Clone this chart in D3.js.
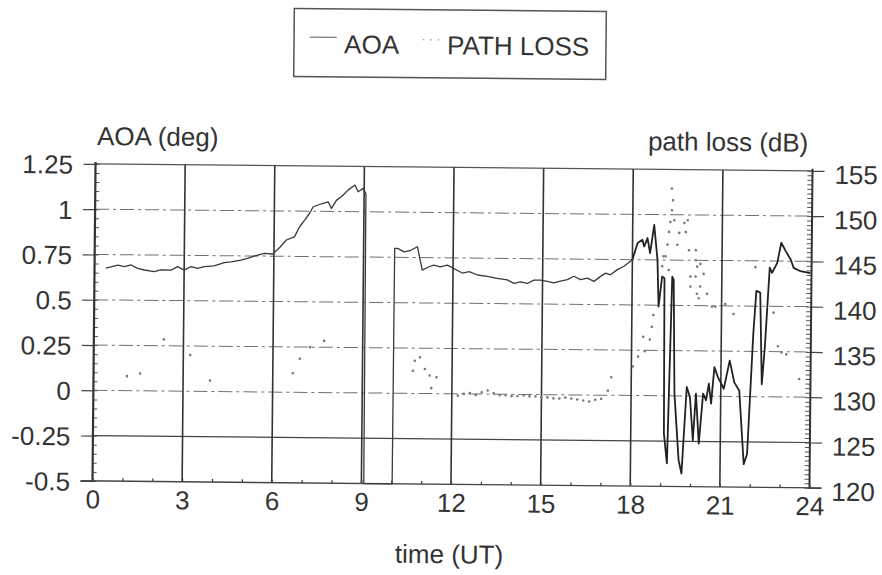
<!DOCTYPE html>
<html><head><meta charset="utf-8">
<script src="https://cdn.jsdelivr.net/npm/d3@7"></script>
<style>
html,body{margin:0;padding:0;background:#fff;}
svg{display:block;}
text{font-family:"Liberation Sans",Arial,Helvetica,sans-serif;fill:#333;}
</style></head>
<body>
<svg id="chart" width="882" height="575"></svg>
<script>
// ---- data ----
const xTicks = [0,3,6,9,12,15,18,21,24];
const aoaTicks = [-0.5,-0.25,0,0.25,0.5,0.75,1,1.25];
const aoaTickLabels = ["-0.5","-0.25","0","0.25","0.5","0.75","1","1.25"];
const plTicks = [120,125,130,135,140,145,150,155];

const aoaTime = [0.38,0.78,1.0,1.22,1.44,1.67,2.0,2.22,2.56,2.78,3.0,3.23,3.45,3.67,4.0,4.34,4.57,4.9,5.12,5.34,5.68,5.96,6.2,6.41,6.68,6.85,7.02,7.18,7.30,7.46,7.63,7.80,7.91,8.08,8.24,8.35,8.47,8.69,8.80,8.97,9.06,9.08,10.03,10.04,10.14,10.36,10.58,10.8,10.97,11.19,11.35,11.57,11.81,12.31,12.54,12.82,13.15,13.48,13.82,14.04,14.26,14.49,14.71,14.93,15.16,15.38,15.6,15.83,16.05,16.27,16.5,16.72,16.94,17.11,17.27,17.5,17.72,18.0,18.17,18.33,18.39,18.5,18.59,18.72,18.84,18.89,19.0,19.08,19.11,19.22,19.34,19.39,19.45,19.61,19.71,19.86,19.97,20.08,20.17,20.28,20.41,20.51,20.6,20.68,20.78,20.9,21.1,21.29,21.45,21.62,21.79,21.9,22.07,22.16,22.29,22.37,22.46,22.6,22.68,22.85,22.98,23.13,23.3,23.4,23.63,23.96];
const aoaValue = [0.675,0.693,0.685,0.694,0.676,0.667,0.658,0.668,0.668,0.687,0.668,0.688,0.679,0.689,0.693,0.712,0.717,0.727,0.737,0.75,0.765,0.762,0.80,0.84,0.858,0.914,0.951,0.989,1.025,1.035,1.044,1.053,1.017,1.063,1.082,1.10,1.12,1.147,1.11,1.129,1.10,-0.5,-0.5,0.80,0.80,0.781,0.79,0.81,0.681,0.70,0.709,0.70,0.71,0.667,0.675,0.657,0.65,0.64,0.632,0.613,0.622,0.613,0.632,0.632,0.626,0.617,0.627,0.636,0.655,0.637,0.646,0.628,0.656,0.674,0.665,0.694,0.713,0.75,0.842,0.86,0.823,0.87,0.787,0.943,0.75,0.492,0.658,0.649,-0.207,-0.373,0.658,0.64,0.014,-0.354,-0.428,0.05,-0.005,-0.244,0.014,-0.262,0.014,-0.023,0.069,-0.041,0.161,0.106,0.042,0.198,0.078,0.032,-0.373,-0.317,0.345,0.584,0.575,0.069,0.271,0.713,0.685,0.74,0.851,0.805,0.759,0.713,0.695,0.685];

const plTime = [1.12,1.56,2.34,3.23,3.9,6.67,6.9,7.24,7.71,10.69,10.75,10.92,11.09,11.25,11.31,11.48,
 12.2,12.4,12.6,12.8,13.0,13.2,13.4,13.6,13.8,14.0,14.2,14.4,14.6,14.8,15.0,15.2,15.4,15.6,15.8,16.0,16.2,16.4,16.6,16.8,17.0,
 17.22,17.33,18.05,18.22,18.39,18.44,18.61,18.67,18.72,19.0,19.04,19.11,19.17,19.22,19.26,19.31,19.30,19.34,19.22,19.39,19.56,19.5,19.73,19.84,19.78,19.89,20.12,20.12,20.17,20.28,19.95,20.12,19.95,20.28,20.17,20.23,20.39,20.51,20.68,20.79,21.12,21.4,22.12,22.74,22.9,23.02,23.18,23.62];
const plValue = [131.6,131.9,135.7,134.0,131.2,132.1,133.7,135.0,135.7,132.5,133.6,134.0,132.7,132.0,130.6,131.8,
 129.8,130.0,130.1,129.9,130.2,130.4,130.1,129.9,129.9,129.8,129.8,129.9,129.8,129.8,129.7,129.7,129.6,129.6,129.7,129.6,129.5,129.4,129.3,129.5,129.6,
 130.5,132.0,133.2,134.3,136.5,134.9,136.2,137.6,138.9,144.3,145.4,145.4,146.7,148.1,149.2,150.5,152.9,151.6,143.9,149.4,148.0,146.7,149.1,149.4,148.1,146.1,146.1,145.0,144.3,144.6,143.2,143.2,142.1,142.1,141.3,140.8,143.5,141.3,139.9,139.9,140.2,139.1,144.3,139.3,135.6,134.9,134.7,132.0];

// ---- layout ----
const svg = d3.select("#chart");
const L = 94, R = 811, T = 167.35, B = 484.35;
const g = svg.append("g").attr("transform","rotate(0.55,452.5,325.85)");

const x = d3.scaleLinear().domain([0,24]).range([L,R]);
const yA = d3.scaleLinear().domain([-0.5,1.25]).range([B,T]);
const yP = d3.scaleLinear().domain([120,155]).range([B,T]);

// legend
const lg = g.append("g");
lg.append("rect").attr("x",291.3).attr("y",10).attr("width",312).attr("height",68)
  .attr("fill","none").attr("stroke","#555").attr("stroke-width",1.5);
lg.append("line").attr("x1",307).attr("x2",334).attr("y1",38.5).attr("y2",38.5).attr("stroke","#777").attr("stroke-width",1.2);
lg.append("text").attr("x",341.5).attr("y",54.3).attr("font-size",26).text("AOA");
lg.append("line").attr("x1",420).attr("x2",437).attr("y1",40).attr("y2",40).attr("stroke","#999")
  .attr("stroke-width",1.3).attr("stroke-dasharray","1.5,6");
lg.append("text").attr("x",444.5).attr("y",54.3).attr("font-size",26).text("PATH LOSS");

// horizontal grid
aoaTicks.filter(v => v > -0.5 && v < 1.25).forEach(v => {
  g.append("line").attr("x1",L).attr("x2",R).attr("y1",yA(v)).attr("y2",yA(v))
   .attr("stroke", v === -0.25 ? "#444" : "#707070")
   .attr("stroke-width", v === -0.25 ? 1.2 : 1)
   .attr("stroke-dasharray", v === -0.25 ? null : "14,4,3,4");
});
// top frame
g.append("line").attr("x1",L).attr("x2",R).attr("y1",T).attr("y2",T).attr("stroke","#555").attr("stroke-width",1.2);
// vertical grid
xTicks.filter(t => t > 0 && t < 24).forEach(t => {
  g.append("line").attr("x1",x(t)).attr("x2",x(t)).attr("y1",T).attr("y2",B)
   .attr("stroke","#333").attr("stroke-width",1.6);
});

// axes
const leftAxis = d3.axisLeft(yA).tickValues(aoaTicks).tickFormat((d,i)=>aoaTickLabels[i]).tickSize(12).tickPadding(10);
const la = g.append("g").attr("transform",`translate(${L},0)`).call(leftAxis);
la.select(".domain").remove();
la.selectAll("line").attr("stroke","#444").attr("stroke-width",1.2);
la.selectAll("text").attr("font-size",26).attr("fill","#333").attr("dy","0.36em").attr("x",-22.5);
const leftMinor = d3.axisRight(yA).tickValues(d3.range(-0.5,1.2501,0.05)).tickSize(4).tickFormat("");
const lm = g.append("g").attr("transform",`translate(${L},0)`).call(leftMinor);
lm.select(".domain").remove();
lm.selectAll("line").attr("stroke","#555").attr("stroke-width",1);
g.append("line").attr("x1",L).attr("x2",L).attr("y1",T-2).attr("y2",B+1).attr("stroke","#333").attr("stroke-width",2.2);

const rightAxis = d3.axisRight(yP).tickValues(plTicks).tickSize(12).tickPadding(10);
const ra = g.append("g").attr("transform",`translate(${R},0)`).call(rightAxis);
ra.select(".domain").remove();
ra.selectAll("line").attr("stroke","#444").attr("stroke-width",1.2);
ra.selectAll("text").attr("font-size",26).attr("fill","#333").attr("dy","0.47em");
const rightMinor = d3.axisLeft(yP).tickValues(d3.range(120,155.01,0.5)).tickSize(5).tickFormat("");
const rm = g.append("g").attr("transform",`translate(${R},0)`).call(rightMinor);
rm.select(".domain").remove();
rm.selectAll("line").attr("stroke","#555").attr("stroke-width",1);
g.append("line").attr("x1",R).attr("x2",R).attr("y1",T-2).attr("y2",B+1).attr("stroke","#333").attr("stroke-width",2);

const bottomAxis = d3.axisBottom(x).tickValues(xTicks).tickSize(0).tickPadding(9);
const ba = g.append("g").attr("transform",`translate(0,${B})`).call(bottomAxis);
ba.select(".domain").remove();
ba.selectAll("text").attr("font-size",26).attr("fill","#333");
const bottomMinor = d3.axisTop(x).tickValues(d3.range(0,24.01,1)).tickSize(3).tickFormat("");
const bm = g.append("g").attr("transform",`translate(0,${B})`).call(bottomMinor);
bm.select(".domain").remove();
bm.selectAll("line").attr("stroke","#444").attr("stroke-width",1.3);
g.append("line").attr("x1",L-12).attr("x2",R+12).attr("y1",B).attr("y2",B).attr("stroke","#444").attr("stroke-width",1.4);

// titles
g.append("text").attr("x",95.3).attr("y",148.4).attr("font-size",26).text("AOA (deg)");
g.append("text").attr("x",806.6).attr("y",148.3).attr("font-size",26).attr("text-anchor","end").text("path loss (dB)");
g.append("text").attr("x",451.3).attr("y",563.3).attr("font-size",26).attr("text-anchor","middle").text("time (UT)");

// AOA line: lighter early part, heavier late part (as in the scan)
const split = aoaTime.findIndex(t => t >= 18.0);
const idxEarly = d3.range(0, split + 1);
const idxLate = d3.range(split, aoaTime.length);
const line = d3.line().x(i=>x(aoaTime[i])).y(i=>yA(aoaValue[i]));
g.append("path").datum(idxEarly).attr("d",line).attr("fill","none")
  .attr("stroke","#3a3a3a").attr("stroke-width",1.3).attr("stroke-linejoin","round");
g.append("path").datum(idxLate).attr("d",line).attr("fill","none")
  .attr("stroke","#222").attr("stroke-width",1.8).attr("stroke-linejoin","round");

// path loss dots
g.append("g").selectAll("circle").data(plValue).join("circle")
  .attr("cx",(d,i)=>x(plTime[i])).attr("cy",d=>yP(d)).attr("r",1.3).attr("fill","#777");
</script>
</body></html>
